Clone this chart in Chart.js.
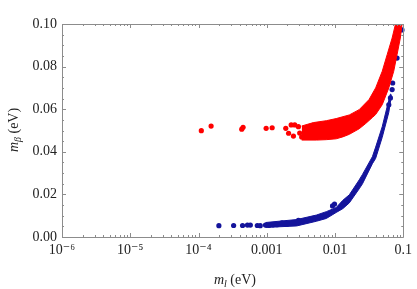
<!DOCTYPE html>
<html>
<head>
<meta charset="utf-8">
<script src="https://cdn.jsdelivr.net/npm/chart.js@4.4.1/dist/chart.umd.min.js"></script>
<style>
	html, body { margin: 0; padding: 0; background: #fff; }
	#wrap { width: 417px; height: 289px; }
</style>
</head>
<body>
<div id="wrap"><canvas id="myChart" width="417" height="289"></canvas></div>
<script>
// tick positions and labels
const xTickValues = [1e-6, 1e-5, 1e-4, 0.001, 0.01, 0.1];
const xTickLabels = ['10\u207B\u2076', '10\u207B\u2075', '10\u207B\u2074', '0.001', '0.01', '0.1'];
const yTickValues = [0, 0.02, 0.04, 0.06, 0.08, 0.1];
const yTickLabels = ['0.00', '0.02', '0.04', '0.06', '0.08', '0.10'];

// inverted hierarchy (red): band edges [m_l, m_beta] and loose points
const redLower = [[3.25e-3, 0.0455], [5.35e-3, 0.0455], [7.46e-3, 0.0457], [0.0104, 0.0461], [0.013, 0.0470],
	[0.0162, 0.0482], [0.0226, 0.0508], [0.0282, 0.0533], [0.0353, 0.0561], [0.0394, 0.0575], [0.0492, 0.0621],
	[0.0614, 0.0700], [0.0725, 0.0778], [0.0811, 0.0856], [0.0906, 0.0934], [0.0958, 0.0997], [0.0975, 0.1015]];
const redUpper = [[3.25e-3, 0.0521], [4.8e-3, 0.0537], [7.46e-3, 0.0546], [0.0104, 0.0556], [0.0162, 0.0573],
	[0.0226, 0.0598], [0.0315, 0.0645], [0.0394, 0.0700], [0.0492, 0.0778], [0.0581, 0.0856], [0.0687, 0.0934],
	[0.0766, 0.0997], [0.0848, 0.1019], [0.0975, 0.1030]];
const redDots = [[1.10e-4, 0.0499], [1.53e-4, 0.0521], [4.3e-4, 0.0506], [4.5e-4, 0.0515], [9.8e-4, 0.0510],
	[1.20e-3, 0.0513], [1.9e-3, 0.0510], [2.28e-3, 0.0526], [2.09e-3, 0.0487], [2.46e-3, 0.0474],
	[2.91e-3, 0.0518], [2.57e-3, 0.0526], [3.04e-3, 0.0488], [3.25e-3, 0.0469]];

// normal hierarchy (blue)
const blueLower = [[9.6e-4, 0.0045], [2.75e-3, 0.0052], [5.35e-3, 0.0074], [7.46e-3, 0.0087], [0.0104, 0.0115],
	[0.013, 0.0133], [0.0162, 0.0160], [0.0226, 0.0226], [0.0253, 0.0250], [0.0353, 0.0344], [0.0394, 0.0369],
	[0.0492, 0.0468], [0.0614, 0.0585], [0.0672, 0.0665]];
const blueUpper = [[9.6e-4, 0.0068], [2.75e-3, 0.0082], [5.35e-3, 0.0103], [7.46e-3, 0.0119], [0.0104, 0.0138],
	[0.013, 0.0172], [0.0162, 0.0198], [0.0226, 0.0268], [0.0253, 0.0294], [0.0353, 0.0377], [0.0394, 0.0422],
	[0.0492, 0.0518], [0.0581, 0.0612], [0.0649, 0.0671], [0.0672, 0.0668]];
const blueDots = [[1.99e-4, 0.0053], [3.27e-4, 0.0054], [4.42e-4, 0.0054], [5.21e-4, 0.0056], [5.75e-4, 0.0056],
	[7.27e-4, 0.0054], [8.03e-4, 0.0053], [9.58e-4, 0.0056], [1.08e-3, 0.0055], [1.24e-3, 0.0057],
	[1.41e-3, 0.0058], [1.67e-3, 0.0067], [1.97e-3, 0.0060], [2.33e-3, 0.0064], [2.91e-3, 0.0078],
	[4.8e-3, 0.0088], [9.2e-3, 0.0146], [9.84e-3, 0.0155], [0.0614, 0.0621], [0.0649, 0.0653],
	[0.0687, 0.0692], [0.0700, 0.0723], [0.0811, 0.0840], [0.0958, 0.0972]];

const RED = '#ff0000';
const BLUE = '#14149b';
const FRAME = '#8c8c8c';
const SERIF = '"Liberation Serif", "DejaVu Serif", serif';

function pts(list){
	return list.map(p => ({x: p[0], y: p[1]}));
}

function edge(list, color, fill){
	return {
		data: pts(list),
		showLine: true,
		borderColor: color,
		backgroundColor: color,
		borderWidth: 1,
		pointRadius: 0,
		fill: fill,
		tension: 0
	};
}

function dots(list, color){
	return {
		data: pts(list),
		showLine: false,
		backgroundColor: color,
		borderWidth: 0,
		pointRadius: 2.6,
		pointHoverRadius: 2.6,
		clip: false
	};
}

// mathematica style frame with inside ticks on all four sides
const frameTicks = {
	id: 'frameTicks',
	afterDatasetsDraw(chart){
		let ctx = chart.ctx;
		let a = chart.chartArea;
		let xs = chart.scales.x, ys = chart.scales.y;
		ctx.save();
		ctx.strokeStyle = FRAME;
		ctx.lineWidth = 1;
		ctx.beginPath();
		ctx.rect(Math.round(a.left) + 0.5, Math.round(a.top) + 0.5, Math.round(a.right - a.left), Math.round(a.bottom - a.top));
		ctx.stroke();

		ctx.beginPath();
		for (let e = -6; e <= -1; e++) {
			for (let k = 1; k <= 9; k++) {
				let v = k * Math.pow(10, e);
				if (v > 0.1 * 1.0001) break;
				let px = Math.round(xs.getPixelForValue(v)) + 0.5;
				let len = k == 1 ? 4 : 2;
				ctx.moveTo(px, a.bottom); ctx.lineTo(px, a.bottom - len);
				ctx.moveTo(px, a.top); ctx.lineTo(px, a.top + len);
			}
		}
		for (let i = 0; i <= 20; i++) {
			let v = i * 0.005;
			let py = Math.round(ys.getPixelForValue(v)) + 0.5;
			let len = i % 4 == 0 ? 4 : 2;
			ctx.moveTo(a.left, py); ctx.lineTo(a.left + len, py);
			ctx.moveTo(a.right, py); ctx.lineTo(a.right - len, py);
		}
		ctx.stroke();
		ctx.restore();
	},
	afterDraw(chart){
		let ctx = chart.ctx;
		ctx.save();
		ctx.fillStyle = '#222';
		ctx.textBaseline = 'alphabetic';
		// axis titles with subscripts
		function title(parts, cx, cy, rot){
			ctx.save();
			ctx.translate(cx, cy);
			ctx.rotate(rot);
			let w = 0;
			parts.forEach(p => { ctx.font = p.font; w += ctx.measureText(p.t).width; });
			let x = -w / 2;
			parts.forEach(p => {
				ctx.font = p.font;
				ctx.fillText(p.t, x, p.dy || 0);
				x += ctx.measureText(p.t).width;
			});
			ctx.restore();
		}
		title([
			{t: 'm', font: 'italic 14px ' + SERIF},
			{t: 'l', font: 'italic 10px ' + SERIF, dy: 3},
			{t: ' (eV)', font: '14px ' + SERIF}
		], 235, 284, 0);
		title([
			{t: 'm', font: 'italic 14px ' + SERIF},
			{t: '\u03B2', font: 'italic 10px ' + SERIF, dy: 3},
			{t: ' (eV)', font: '14px ' + SERIF}
		], 18, 130, -Math.PI / 2);
		ctx.restore();
	}
};

new Chart(document.getElementById('myChart').getContext('2d'), {
	type: 'scatter',
	data: {
		datasets: [
			edge(redLower, RED, false),
			edge(redUpper, RED, '-1'),
			edge(blueLower, BLUE, false),
			edge(blueUpper, BLUE, '-1'),
			dots(redDots, RED),
			dots(blueDots, BLUE)
		]
	},
	options: {
		responsive: false,
		animation: false,
		events: [],
		layout: { padding: { left: 0, right: 9, top: 24, bottom: 0 } },
		plugins: {
			legend: { display: false },
			tooltip: { enabled: false }
		},
		scales: {
			x: {
				type: 'logarithmic',
				min: 1e-6,
				max: 0.1,
				grid: { display: false, drawTicks: false },
				border: { display: false },
				afterBuildTicks: (scale) => { scale.ticks = xTickValues.map(v => ({value: v})); },
				afterFit: (scale) => { scale.height = 52; },
				ticks: {
					padding: 5,
					maxRotation: 0,
					autoSkip: false,
					color: '#222',
					font: { family: SERIF, size: 14 },
					callback: (v, i) => xTickLabels[i]
				}
			},
			y: {
				min: 0,
				max: 0.1,
				grid: { display: false, drawTicks: false },
				border: { display: false },
				afterBuildTicks: (scale) => { scale.ticks = yTickValues.map(v => ({value: v})); },
				afterFit: (scale) => { scale.width = 62; },
				ticks: {
					padding: 5,
					autoSkip: false,
					color: '#222',
					font: { family: SERIF, size: 14 },
					callback: (v, i) => yTickLabels[i]
				}
			}
		}
	},
	plugins: [frameTicks]
});
</script>
</body>
</html>
